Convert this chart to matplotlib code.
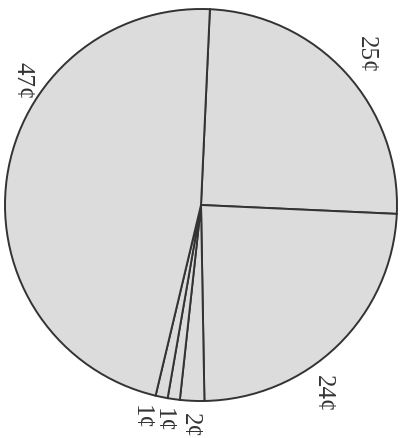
import matplotlib.pyplot as plt
import numpy as np

# share of each coin, in cents
labels = ['25¢', '24¢', '2¢', '1¢', '1¢', '47¢']
values = [25, 24, 2, 1, 1, 47]

# where each label sits around the pie (degrees, distance in radii)
label_angles = [42.5, -57, -93, -100, -106, 145]
label_dist = [1.14, 1.14, 1.12, 1.11, 1.12, 1.11]

fig = plt.figure(figsize=(4.07, 4.39), dpi=100)
W, H = 407, 439
cx, cy, r = 201, 206, 196
ax = fig.add_axes([(cx - r) / W, (H - cy - r) / H, 2 * r / W, 2 * r / H])

wedges, _ = ax.pie(values, startangle=87.4, counterclock=False,
                   colors=['#dcdcdc'] * len(values),
                   wedgeprops=dict(edgecolor='#333333', linewidth=1.4))

for lab, ang, d in zip(labels, label_angles, label_dist):
    a = np.radians(ang)
    ax.text(d * np.cos(a), d * np.sin(a), lab, rotation=-90,
            ha='center', va='center', fontsize=18,
            family='Liberation Serif', color='#333333')

ax.set_xlim(-1, 1)
ax.set_ylim(-1, 1)
ax.set_aspect('auto')
ax.axis('off')

fig.savefig('out.png', dpi=100)
